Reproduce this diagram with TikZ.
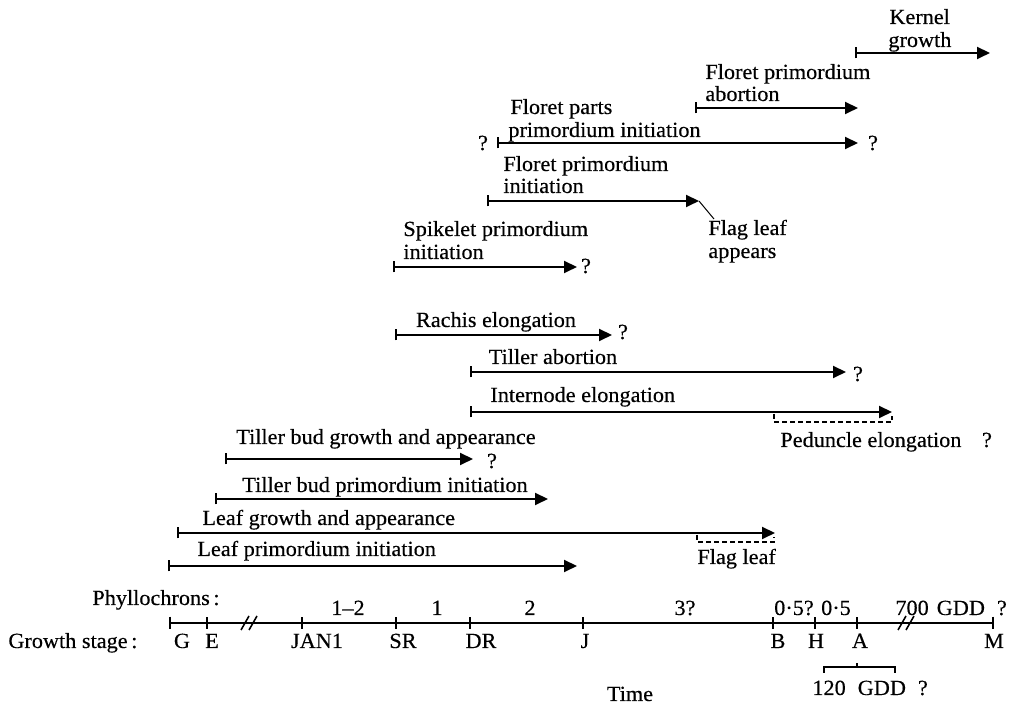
\documentclass[tikz,border=0pt]{standalone}
\usepackage{fontspec}
\setmainfont{Liberation Serif}[FakeStretch=1.03,FakeBold=0.35]
\usetikzlibrary{arrows.meta}
\tikzset{
  lbl/.style={inner sep=0pt, font=\fontsize{10.8}{11.5}\selectfont, anchor=base},
  lblw/.style={lbl, anchor=base west},
  phase/.style={line width=1pt, {Bar[width=5.5pt,line width=0.8pt]}-{Triangle[length=6.5pt,width=6pt]}},
  dashbr/.style={line width=0.6pt, dash pattern=on 2.5pt off 1.5pt},
  axisline/.style={line width=0.9pt},
  tickmark/.style={line width=0.8pt},
  leader/.style={line width=0.5pt},
}
\begin{document}
\begin{tikzpicture}[x=0.5pt,y=-0.5pt]
\useasboundingbox (0,0) rectangle (1014,704);

% ---------- Kernel growth
\node[lblw] (kg1) at (889,24) {Kernel};
\node[lblw] (kg2) at (888,47) {growth};
\coordinate (kgA) at (855,53); \coordinate (kgB) at (990,53);
\draw[phase] (kgA) -- (kgB);

% ---------- Floret primordium abortion
\node[lblw] (fa1) at (705,79) {Floret primordium};
\node[lblw] (fa2) at (705,101) {abortion};
\coordinate (faA) at (695,108); \coordinate (faB) at (858,108);
\draw[phase] (faA) -- (faB);

% ---------- Floret parts primordium initiation
\node[lblw] (fp1) at (510,114) {Floret parts};
\node[lblw] (fp2) at (508,137) {primordium initiation};
\coordinate (fpA) at (497,143); \coordinate (fpB) at (858,143);
\draw[phase] (fpA) -- (fpB);
\node[lbl] (fpq1) at (483,150) {?};
\node[lbl] (fpq2) at (873,150) {?};

% ---------- Floret primordium initiation
\node[lblw] (fi1) at (503,171) {Floret primordium};
\node[lblw] (fi2) at (503,193) {initiation};
\coordinate (fiA) at (487,201); \coordinate (fiB) at (699,201);
\draw[phase] (fiA) -- (fiB);

% ---------- Flag leaf appears
\node[lblw] (fl1) at (708,235) {Flag leaf};
\node[lblw] (fl2) at (708,258) {appears};
\coordinate (flp) at (714,219);
\draw[leader] (fiB) -- (flp);

% ---------- Spikelet primordium initiation
\node[lblw] (sp1) at (403,236) {Spikelet primordium};
\node[lblw] (sp2) at (403,259) {initiation};
\coordinate (spA) at (393,267); \coordinate (spB) at (577,267);
\draw[phase] (spA) -- (spB);
\node[lbl] (spq) at (586,273) {?};

% ---------- Rachis elongation
\node[lbl] (ra) at (496,327) {Rachis elongation};
\coordinate (raA) at (395,335); \coordinate (raB) at (612,335);
\draw[phase] (raA) -- (raB);
\node[lbl] (raq) at (623,339) {?};

% ---------- Tiller abortion
\node[lbl] (ta) at (553,364) {Tiller abortion};
\coordinate (taA) at (470,372); \coordinate (taB) at (846,372);
\draw[phase] (taA) -- (taB);
\node[lbl] (taq) at (858,381) {?};

% ---------- Internode elongation / Peduncle elongation
\node[lblw] (ie) at (490,402) {Internode elongation};
\coordinate (ieA) at (470,412); \coordinate (ieB) at (892,412);
\draw[phase] (ieA) -- (ieB);
\coordinate (pd1) at (774,414); \coordinate (pd2) at (774,422);
\coordinate (pd3) at (892,422); \coordinate (pd4) at (892,416);
\draw[dashbr] (pd1) -- (pd2) -- (pd3) -- (pd4);
\node[lblw] (pe) at (780,447) {Peduncle elongation};
\node[lbl] (peq) at (987,447) {?};

% ---------- Tiller bud growth and appearance
\node[lbl] (tg) at (386,444) {Tiller bud growth and appearance};
\coordinate (tgA) at (225,459); \coordinate (tgB) at (473,459);
\draw[phase] (tgA) -- (tgB);
\node[lbl] (tgq) at (492,468) {?};

% ---------- Tiller bud primordium initiation
\node[lbl] (tp) at (385,492) {Tiller bud primordium initiation};
\coordinate (tpA) at (215,499); \coordinate (tpB) at (548,499);
\draw[phase] (tpA) -- (tpB);

% ---------- Leaf growth and appearance / Flag leaf
\node[lblw] (lg) at (202,525) {Leaf growth and appearance};
\coordinate (lgA) at (177,533); \coordinate (lgB) at (775,533);
\draw[phase] (lgA) -- (lgB);
\coordinate (fd1) at (697,535); \coordinate (fd2) at (697,542);
\coordinate (fd3) at (774,542); \coordinate (fd4) at (774,537);
\draw[dashbr] (fd1) -- (fd2) -- (fd3) -- (fd4);
\node[lblw] (flg) at (697,564) {Flag leaf};

% ---------- Leaf primordium initiation
\node[lblw] (lp) at (197,556) {Leaf primordium initiation};
\coordinate (lpA) at (168,566); \coordinate (lpB) at (577,566);
\draw[phase] (lpA) -- (lpB);

% ---------- Time axis
\coordinate (G) at (170,623);
\coordinate (M) at (993,623);
\draw[axisline] (G) -- (M);
\draw[line width=1pt] ([yshift=3.2pt]G) -- ([yshift=-3.2pt]G);
\draw[line width=1pt] ([yshift=3.2pt]M) -- ([yshift=-3.2pt]M);
\coordinate (tE) at (207,623);
\coordinate (tJAN) at (302,623);
\coordinate (tSR) at (396,623);
\coordinate (tDR) at (470,623);
\coordinate (tJ) at (583,623);
\coordinate (tB) at (773,623);
\coordinate (tH) at (815,623);
\coordinate (tA) at (857,623);
\foreach \c in {tE,tJAN,tSR,tDR,tJ,tB,tH,tA}
  \draw[tickmark] ([yshift=2.8pt]\c) -- ([yshift=-2.8pt]\c);
% axis breaks
\coordinate (b1a) at (241,630); \coordinate (b1b) at (249,616);
\coordinate (b2a) at (249,630); \coordinate (b2b) at (257,616);
\coordinate (b3a) at (898,630); \coordinate (b3b) at (906,616);
\coordinate (b4a) at (906,630); \coordinate (b4b) at (914,616);
\draw[tickmark] (b1a) -- (b1b);
\draw[tickmark] (b2a) -- (b2b);
\draw[tickmark] (b3a) -- (b3b);
\draw[tickmark] (b4a) -- (b4b);

% Phyllochrons
\node[lblw] (phy) at (92,605) {Phyllochrons\,:};
\node[lbl] (p1) at (348,615) {1--2};
\node[lbl] (p2) at (437,615) {1};
\node[lbl] (p3) at (530,615) {2};
\node[lbl] (p4) at (685,615) {3?};
\node[lbl] (p5) at (794,615) {0·5?};
\node[lbl] (p6) at (836,615) {0·5};
\node[lblw] (p7) at (895,615) {700\hspace{4pt}GDD\hspace{6pt}?};

% Growth stages
\node[lblw] (gs) at (8,648) {Growth stage\,:};
\node[lbl] (sG) at (182,648) {G};
\node[lbl] (sE) at (212,648) {E};
\node[lbl] (sJAN) at (317,648) {JAN1};
\node[lbl] (sSR) at (403,648) {SR};
\node[lbl] (sDR) at (481,648) {DR};
\node[lbl] (sJ) at (585,648) {J};
\node[lbl] (sB) at (778,648) {B};
\node[lbl] (sH) at (816,648) {H};
\node[lbl] (sA) at (860,648) {A};
\node[lbl] (sM) at (994,648) {M};

% 120 GDD bracket
\coordinate (br1) at (824,673); \coordinate (br2) at (824,667);
\coordinate (br3) at (895,667); \coordinate (br4) at (895,673);
\coordinate (brc) at (857,667); \coordinate (brt) at (857,663);
\draw[line width=0.7pt] (br1) -- (br2) -- (br3) -- (br4);
\draw[line width=0.7pt] (brc) -- (brt);
\node[lblw] (gdd) at (812,695) {120\hspace{6pt}GDD\hspace{6pt}?};

\node[lbl] (time) at (630,701) {Time};
\end{tikzpicture}
\end{document}
